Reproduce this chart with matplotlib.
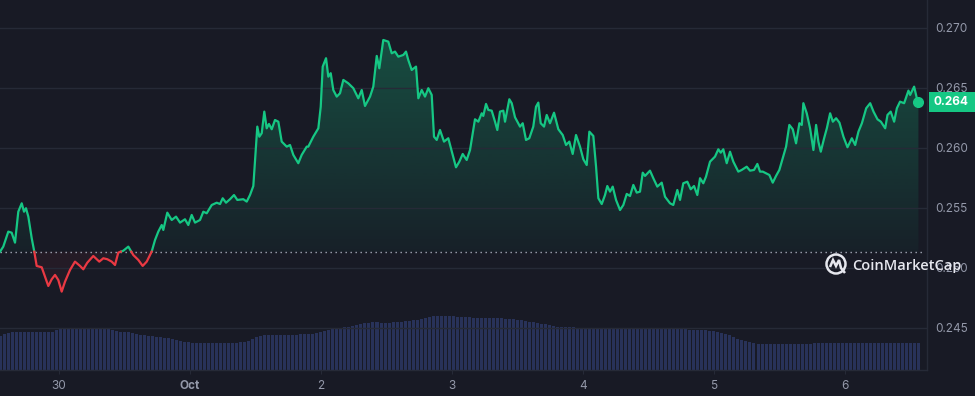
import numpy as np
import matplotlib
matplotlib.use("Agg")
import matplotlib.pyplot as plt
from matplotlib.path import Path
from matplotlib.patches import Circle, Rectangle, PathPatch
from matplotlib.transforms import IdentityTransform
import matplotlib.colors as mcolors

plt.rcParams['font.family'] = ['Inter', 'DejaVu Sans']

BG = "#181a25"
GRID = "#262a37"
GREEN = "#16c784"
RED = "#ea3943"
VOLC = "#283259"
TXT = "#9499aa"

# ---- data: hours relative to Oct 1 00:00, price in USD ----
hours_sep = [-34.81, -34.21, -33.29, -32.67, -32.06, -31.46, -30.83, -30.41, -30.05, -29.62,
             -29.00, -28.53, -28.09, -27.17, -26.56, -25.96, -25.34, -24.73, -24.13, -23.51,
             -22.90, -21.99, -21.07, -20.15, -19.55, -18.82, -17.72, -16.62, -15.88, -15.15,
             -14.35, -13.74, -13.14, -12.22, -11.30, -10.39, -9.47, -8.67, -7.93, -7.02,
             -6.41, -5.81]
price_sep = [0.25136, 0.25178, 0.25303, 0.25294, 0.25211, 0.25469, 0.25539, 0.25469, 0.25498, 0.25428,
             0.25248, 0.25136, 0.25017, 0.25006, 0.24928, 0.24850, 0.24906, 0.24942, 0.24900, 0.24803,
             0.24886, 0.24983, 0.25053, 0.25017, 0.24989, 0.25044, 0.25100, 0.25053, 0.25081, 0.25073,
             0.25053, 0.25025, 0.25128, 0.25144, 0.25178, 0.25108, 0.25067, 0.25017, 0.25053, 0.25136,
             0.25233, 0.25303]

hours_oct1 = [-5.18, -4.89, -4.16, -3.35, -2.56, -1.83, -0.92, -0.31, 0.31, 0.92,
              1.83, 2.44, 3.06, 3.98, 4.89, 5.50, 5.99, 6.60, 7.33, 8.06,
              8.67, 9.77, 10.39, 10.99, 11.60, 12.09, 12.33, 12.70, 13.14, 13.61,
              14.05, 14.47, 14.97, 15.57, 16.18, 16.80, 17.72, 18.32, 18.93, 19.84,
              20.46, 21.38, 21.67]
price_oct1 = [0.25358, 0.25317, 0.25461, 0.25400, 0.25428, 0.25378, 0.25406, 0.25358, 0.25442, 0.25378,
              0.25400, 0.25469, 0.25456, 0.25525, 0.25544, 0.25533, 0.25581, 0.25544, 0.25573, 0.25608,
              0.25567, 0.25573, 0.25553, 0.25608, 0.25683, 0.26011, 0.26178, 0.26094, 0.26123, 0.26303,
              0.26164, 0.26200, 0.26156, 0.26233, 0.26219, 0.26053, 0.26011, 0.26025, 0.25942, 0.25873,
              0.25942, 0.26011, 0.26011]

hours_oct2 = [22.59, 23.51, 23.95, 24.31, 24.92, 25.34, 25.78, 26.25, 26.88, 27.48,
              28.09, 29.00, 29.92, 30.83, 31.46, 32.06, 32.98, 33.58, 34.21, 34.68,
              35.41, 36.33, 36.95, 37.56, 38.16, 39.08, 39.57, 39.99, 40.62, 41.41,
              41.83, 42.45, 43.05, 43.66, 44.28, 44.70, 45.20, 45.80, 46.53, 47.32]
price_oct2 = [0.26094, 0.26164, 0.26344, 0.26678, 0.26748, 0.26594, 0.26623, 0.26483, 0.26428, 0.26456,
              0.26567, 0.26539, 0.26498, 0.26414, 0.26483, 0.26350, 0.26428, 0.26511, 0.26767, 0.26664,
              0.26900, 0.26886, 0.26789, 0.26803, 0.26761, 0.26775, 0.26803, 0.26733, 0.26650, 0.26678,
              0.26414, 0.26483, 0.26428, 0.26498, 0.26442, 0.26094, 0.26067, 0.26150, 0.26053, 0.26081]

hours_oct3 = [48.13, 48.73, 49.34, 49.96, 50.69, 51.30, 52.21, 52.82, 53.44, 53.73,
              54.23, 54.65, 55.27, 55.88, 56.30, 56.79, 57.40, 57.71, 58.50, 58.94,
              59.54, 60.46, 60.95, 61.56, 62.16, 62.89, 63.39, 63.81, 64.25, 64.86,
              65.35, 65.95, 66.69, 67.48, 68.28, 68.89, 69.49, 70.11, 70.72, 71.45,
              72.06, 72.68, 73.16, 73.89, 74.39, 74.81, 75.43, 76.03, 76.45, 76.95]
price_oct3 = [0.25942, 0.25839, 0.25886, 0.25950, 0.25900, 0.25983, 0.26239, 0.26219, 0.26289, 0.26267,
              0.26367, 0.26317, 0.26311, 0.26219, 0.26150, 0.26303, 0.26311, 0.26219, 0.26406, 0.26373,
              0.26256, 0.26178, 0.26206, 0.26067, 0.26081, 0.26178, 0.26344, 0.26378, 0.26206, 0.26178,
              0.26275, 0.26206, 0.26294, 0.26156, 0.26108, 0.26025, 0.26053, 0.25950, 0.26108, 0.26011,
              0.25906, 0.25858, 0.26136, 0.26100, 0.25844, 0.25581, 0.25533, 0.25608, 0.25683, 0.25636]

hours_oct4 = [77.44, 78.05, 78.78, 79.39, 80.01, 80.61, 81.22, 81.84, 82.44, 82.94,
              83.36, 84.27, 84.88, 85.61, 86.42, 87.02, 87.94, 88.54, 89.28, 89.77,
              90.37, 91.11, 91.73, 92.34, 92.94, 93.44, 94.04, 94.53, 95.27, 96.18,
              96.79, 97.23, 97.70, 98.33, 98.93, 99.54, 100.45, 101.08, 101.99, 102.60,
              103.33, 103.94, 104.43]
price_oct4 = [0.25678, 0.25567, 0.25483, 0.25525, 0.25617, 0.25600, 0.25692, 0.25628, 0.25636, 0.25794,
              0.25767, 0.25811, 0.25748, 0.25678, 0.25711, 0.25594, 0.25539, 0.25525, 0.25650, 0.25567,
              0.25706, 0.25719, 0.25656, 0.25683, 0.25608, 0.25748, 0.25706, 0.25761, 0.25886, 0.25928,
              0.25989, 0.25961, 0.25989, 0.25873, 0.25969, 0.25886, 0.25803, 0.25817, 0.25844, 0.25811,
              0.25817, 0.25867, 0.25803]

hours_oct5 = [104.93, 105.53, 106.14, 106.76, 107.36, 107.97, 108.59, 109.20, 109.80, 110.43,
              111.03, 111.64, 112.08, 112.37, 112.99, 113.60, 114.21, 114.70, 115.12, 115.56,
              116.17, 116.67, 117.27, 117.77, 118.37, 118.98, 119.71, 120.45, 121.25, 121.86,
              122.46, 123.09, 123.88, 124.61, 125.22, 125.95, 126.57, 127.36, 127.78, 128.37,
              129.00, 129.50, 130.08, 130.83, 131.62, 131.93, 132.66, 133.16, 133.45]
price_oct5 = [0.25803, 0.25789, 0.25775, 0.25711, 0.25767, 0.25817, 0.25914, 0.26011, 0.26192, 0.26156,
              0.26039, 0.26206, 0.26192, 0.26373, 0.26289, 0.26164, 0.25983, 0.26192, 0.26053, 0.25969,
              0.26081, 0.26164, 0.26289, 0.26219, 0.26248, 0.26211, 0.26094, 0.26006, 0.26081, 0.26025,
              0.26136, 0.26206, 0.26331, 0.26373, 0.26303, 0.26239, 0.26219, 0.26164, 0.26275, 0.26303,
              0.26219, 0.26331, 0.26386, 0.26373, 0.26478, 0.26442, 0.26511, 0.26414, 0.26386]

ref_price = 0.25136  # open price (dotted baseline)

# volume bars (relative units), left to right
vol_a = [34, 36, 37] + [38] * 11 + [40, 41, 42, 42, 42, 42, 42, 42, 42]
vol_b = [41, 41, 41, 41, 41, 40, 39, 38, 38, 38, 37, 36, 35, 35, 34, 34, 33, 33,
         32, 32, 31, 30, 29, 28]
vol_c = [28, 27, 27, 27, 27, 27, 27, 27, 27, 27, 27, 27, 27, 28, 28, 29, 31, 33, 34, 35]
vol_d = [35, 35, 35, 35, 35, 35, 35, 35, 36, 36, 36, 36, 37, 38, 39, 40, 41, 42, 42,
         43, 43, 44, 45, 46, 47, 47, 48, 48, 47, 47, 47, 48, 48, 48]
vol_e = [49, 49, 50, 50, 51, 52, 53, 54, 54, 54, 54, 54, 54, 53, 53, 53, 53] + [52] * 8
vol_f = [51, 51, 51, 50, 50, 49, 48, 48, 47, 46, 46, 45, 44, 43, 43, 43, 43, 43] + [42] * 17
vol_g = [42, 42, 41, 41, 41, 41, 41, 41, 41, 41, 41, 40, 40, 40, 40,
         40, 39, 39, 38, 37, 36, 35, 33, 31, 30, 29, 28, 27]
vol_h = [26] * 14 + [27] * 27

year_ticks = [-24, 0, 24, 48, 72, 96, 120]
tick_labels = ["30", "Oct", "2", "3", "4", "5", "6"]
y_ticks = [0.245, 0.250, 0.255, 0.260, 0.265, 0.270]

hours = np.array(hours_sep + hours_oct1 + hours_oct2 + hours_oct3 + hours_oct4 + hours_oct5)
price = np.array(price_sep + price_oct1 + price_oct2 + price_oct3 + price_oct4 + price_oct5)
vol = np.array(vol_a + vol_b + vol_c + vol_d + vol_e + vol_f + vol_g + vol_h, dtype=float)

# insert exact crossing points with the reference price
t2 = [hours[0]]
p2 = [price[0]]
for i in range(1, len(hours)):
    a = price[i - 1] - ref_price
    b = price[i] - ref_price
    if a * b < 0:
        f = a / (a - b)
        t2.append(hours[i - 1] + f * (hours[i] - hours[i - 1]))
        p2.append(ref_price)
    t2.append(hours[i])
    p2.append(price[i])
t2 = np.array(t2)
p2 = np.array(p2)

XMIN, XMAX = -34.81, 135.02
YMIN, YMAX = 0.2415, 0.27233

W, H = 975, 396
fig = plt.figure(figsize=(W / 100, H / 100), dpi=100, facecolor=BG)
rect = [0, 26 / H, 927 / W, 370 / H]

axv = fig.add_axes(rect)
axv.set_facecolor(BG)
tb = np.linspace(hours[0], hours[-1], len(vol))
axv.bar(tb, vol, width=0.75 * (tb[1] - tb[0]), color=VOLC, align='center', linewidth=0)
axv.set_xlim(XMIN, XMAX)
axv.set_ylim(0, vol.max() / 0.146)
axv.set_axis_off()

ax = fig.add_axes(rect)
ax.patch.set_alpha(0)
ax.set_xlim(XMIN, XMAX)
ax.set_ylim(YMIN, YMAX)

# gradient fill above the reference
poly = ax.fill_between(t2, p2, ref_price, where=p2 >= ref_price, color='none')
paths = poly.get_paths()
cpath = Path.make_compound_path(*paths)
poly.remove()
grad = np.zeros((256, 1, 4))
grad[..., :3] = mcolors.to_rgb(GREEN)
grad[:, 0, 3] = np.linspace(0.04, 0.30, 256)
im = ax.imshow(grad, extent=[XMIN, XMAX, ref_price, price.max()], origin='lower',
               aspect='auto', zorder=1, interpolation='bilinear')
im.set_clip_path(cpath, transform=ax.transData)

# faint red fill below
ax.fill_between(t2, p2, ref_price, where=p2 <= ref_price, color=RED, alpha=0.06,
                linewidth=0, zorder=1)

ax.set_xlim(XMIN, XMAX)
ax.set_ylim(YMIN, YMAX)

# lines
g = np.ma.masked_where(p2 < ref_price, p2)
r = np.ma.masked_where(p2 > ref_price, p2)
ax.plot(t2, g, color=GREEN, lw=1.6, solid_joinstyle='round', zorder=3)
ax.plot(t2, r, color=RED, lw=1.6, solid_joinstyle='round', zorder=3)
ax.axhline(ref_price, xmax=0.998, color='#a4a9b8', lw=1, ls=(0, (1, 2.6)), zorder=2)
ax.plot(hours[-1], price[-1], 'o', ms=7, color=GREEN, zorder=4)

# axes styling
ax.set_yticks(y_ticks)
ax.yaxis.tick_right()
ax.set_yticklabels([f"{v:.3f}" for v in y_ticks])
ax.grid(axis='y', color=GRID, lw=1)
ax.set_xticks(year_ticks)
ax.set_xticklabels(tick_labels)
ax.get_xticklabels()[1].set_fontweight('bold')
ax.tick_params(axis='y', length=0, pad=6, labelcolor=TXT, labelsize=8.5)
ax.tick_params(axis='x', length=3, pad=4, color=GRID, labelcolor=TXT, labelsize=8.5)
for s in ['top', 'left']:
    ax.spines[s].set_visible(False)
for s in ['right', 'bottom']:
    ax.spines[s].set_color(GRID)
    ax.spines[s].set_linewidth(1)

# last price label
fig.canvas.draw()
_, py = ax.transData.transform((hours[-1], price[-1]))
fy = py / H
box_h = 20 / H
fig.add_artist(Rectangle((929 / W, fy - box_h / 2), (W - 929) / W, box_h,
                         transform=fig.transFigure, color=GREEN, lw=0, zorder=10))
fig.text(951 / W, fy, f"{price[-1]:.3f}", ha='center', va='center', color='white',
         fontsize=8.5, fontweight='bold', zorder=11)

# watermark
wm_col = '#e6e7ee'
cx, cy = 836, H - 264
fig.add_artist(Circle((cx, cy), 9.5, transform=IdentityTransform(), fill=False,
                      edgecolor=wm_col, lw=1.8, zorder=12))
m_path = Path([(cx - 6, cy - 3), (cx - 3, cy + 4), (cx, cy - 2), (cx + 3, cy + 4),
               (cx + 5, cy - 4), (cx + 9, cy - 9)])
fig.add_artist(PathPatch(m_path, transform=IdentityTransform(), fill=False,
                         edgecolor=wm_col, lw=1.8, zorder=12))
fig.text(852 / W, 1 - 266 / H, "CoinMarketCap", ha='left', va='center', color=wm_col,
         fontsize=10.5, fontweight='semibold', family=['Open Sans', 'DejaVu Sans'], zorder=12)

fig.savefig('out.png', dpi=100, facecolor=BG)
